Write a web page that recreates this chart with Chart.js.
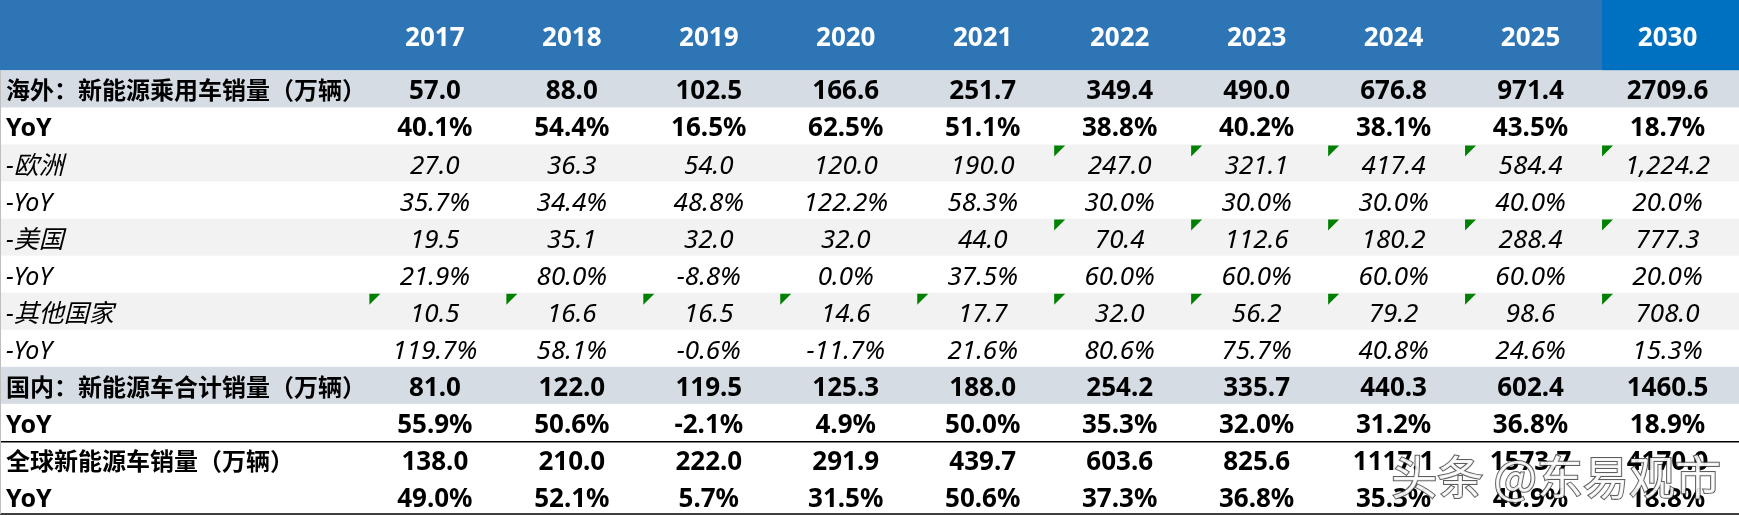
<!DOCTYPE html>
<html>
<head>
<meta charset="utf-8">
<script src="https://cdn.jsdelivr.net/npm/chart.js@4.4.0/dist/chart.umd.min.js"></script>
<style>
  html, body { margin: 0; padding: 0; background: #fff; }
</style>
</head>
<body>
<canvas id="tableChart" width="1739" height="515"></canvas>
<script>
const years = ["2017", "2018", "2019", "2020", "2021", "2022", "2023", "2024", "2025", "2030"]

const overseas    = [57.0, 88.0, 102.5, 166.6, 251.7, 349.4, 490.0, 676.8, 971.4, 2709.6]
const overseasYoY = [40.1, 54.4, 16.5, 62.5, 51.1, 38.8, 40.2, 38.1, 43.5, 18.7]
const europe      = [27.0, 36.3, 54.0, 120.0, 190.0, 247.0, 321.1, 417.4, 584.4, 1224.2]
const europeYoY   = [35.7, 34.4, 48.8, 122.2, 58.3, 30.0, 30.0, 30.0, 40.0, 20.0]
const usa         = [19.5, 35.1, 32.0, 32.0, 44.0, 70.4, 112.6, 180.2, 288.4, 777.3]
const usaYoY      = [21.9, 80.0, -8.8, 0.0, 37.5, 60.0, 60.0, 60.0, 60.0, 20.0]
const others      = [10.5, 16.6, 16.5, 14.6, 17.7, 32.0, 56.2, 79.2, 98.6, 708.0]
const othersYoY   = [119.7, 58.1, -0.6, -11.7, 21.6, 80.6, 75.7, 40.8, 24.6, 15.3]
const domestic    = [81.0, 122.0, 119.5, 125.3, 188.0, 254.2, 335.7, 440.3, 602.4, 1460.5]
const domesticYoY = [55.9, 50.6, -2.1, 4.9, 50.0, 35.3, 32.0, 31.2, 36.8, 18.9]
const globalSales = [138.0, 210.0, 222.0, 291.9, 439.7, 603.6, 825.6, 1117.1, 1573.7, 4170.0]
const globalYoY   = [49.0, 52.1, 5.7, 31.5, 50.6, 37.3, 36.8, 35.3, 40.9, 18.8]

// cells carrying the green Excel marker
const europeFlags = [0, 0, 0, 0, 0, 1, 1, 1, 1, 1]
const usaFlags    = [0, 0, 0, 0, 0, 1, 1, 1, 1, 1]
const othersFlags = [1, 1, 1, 1, 1, 1, 1, 1, 1, 1]

const num = v => v.toFixed(1)
const pct = v => v.toFixed(1) + "%"
const sep = v => v.toLocaleString("en-US", { minimumFractionDigits: 1, maximumFractionDigits: 1 })

// row table: label, values, formatter, style
const rows = [
    { label: "海外：新能源乘用车销量（万辆）", values: overseas, fmt: num, style: "main" },
    { label: "YoY", values: overseasYoY, fmt: pct, style: "bold" },
    { label: "-欧洲", values: europe, fmt: sep, style: "sub", flags: europeFlags },
    { label: "-YoY", values: europeYoY, fmt: pct, style: "subYoY" },
    { label: "-美国", values: usa, fmt: num, style: "sub", flags: usaFlags },
    { label: "-YoY", values: usaYoY, fmt: pct, style: "subYoY" },
    { label: "-其他国家", values: others, fmt: num, style: "sub", flags: othersFlags },
    { label: "-YoY", values: othersYoY, fmt: pct, style: "subYoY" },
    { label: "国内：新能源车合计销量（万辆）", values: domestic, fmt: num, style: "main" },
    { label: "YoY", values: domesticYoY, fmt: pct, style: "bold" },
    { label: "全球新能源车销量（万辆）", values: globalSales, fmt: num, style: "boldTop" },
    { label: "YoY", values: globalYoY, fmt: pct, style: "bold" },
]

const LABEL_COL = 2.697   // label column width, in year-column units
const HEADER_H = 1.9      // header height, in row units
const FONT = "'Noto Sans', 'Noto Sans CJK SC', sans-serif"

const styles = {
    main:    { weight: "bold", band: "#d6dce4", labelSize: 24 },
    bold:    { weight: "bold", band: null, labelSize: 25 },
    boldTop: { weight: "bold", band: null, labelSize: 24 },
    sub:     { weight: "italic", band: "#f2f2f2", labelSize: 25 },
    subYoY:  { weight: "italic", band: null, labelSize: 25 },
}
const cellFont = s => styles[s].weight + " 26px " + FONT
const labelFont = s => styles[s].weight + " " + styles[s].labelSize + "px " + FONT

const rowY = i => HEADER_H + i + 0.5
const colX = i => LABEL_COL + i + 0.5

const datasets = []
datasets.push({
    label: "header",
    data: years.map((y, i) => ({ x: colX(i), y: HEADER_H / 2 })),
    texts: years,
    font: "bold 26px " + FONT,
    color: "#ffffff",
    align: "center",
    pointRadius: 0,
})
datasets.push({
    label: "labels",
    data: rows.map((r, i) => ({ x: 0, y: rowY(i) })),
    texts: rows.map(r => r.label),
    fonts: rows.map(r => labelFont(r.style)),
    color: "#000000",
    align: "left",
    pointRadius: 0,
})
rows.forEach((r, i) => {
    datasets.push({
        label: r.label,
        data: r.values.map((v, j) => ({ x: colX(j), y: rowY(i) })),
        texts: r.values.map(r.fmt),
        font: cellFont(r.style),
        flags: r.flags,
        color: "#000000",
        align: "center",
        pointRadius: 0,
    })
})

const tablePlugin = {
    id: "tableCells",
    beforeDatasetsDraw(chart) {
        const { ctx, scales: { x, y } } = chart
        const left = x.getPixelForValue(0)
        const right = x.getPixelForValue(LABEL_COL + years.length)
        const top0 = y.getPixelForValue(0)
        const headBot = y.getPixelForValue(HEADER_H)
        ctx.save()
        // header
        ctx.fillStyle = "#2e75b6"
        ctx.fillRect(left, top0, right - left, headBot - top0)
        ctx.fillStyle = "#0070c0"
        const lastL = x.getPixelForValue(LABEL_COL + years.length - 1)
        ctx.fillRect(lastL, top0, right - lastL, headBot - top0)
        // row bands
        rows.forEach((r, i) => {
            const band = styles[r.style].band
            if (!band) return
            const top = y.getPixelForValue(HEADER_H + i)
            const bot = y.getPixelForValue(HEADER_H + i + 1)
            ctx.fillStyle = band
            ctx.fillRect(left, top, right - left, bot - top)
        })
        // rules
        ctx.strokeStyle = "#000000"
        ctx.lineWidth = 1.5
        rows.forEach((r, i) => {
            if (r.style !== "boldTop") return
            const yy = Math.round(y.getPixelForValue(HEADER_H + i)) + 0.75
            ctx.beginPath(); ctx.moveTo(left, yy); ctx.lineTo(right, yy); ctx.stroke()
        })
        const yb = y.getPixelForValue(HEADER_H + rows.length) - 1
        ctx.beginPath(); ctx.moveTo(left, yb); ctx.lineTo(right, yb); ctx.stroke()
        ctx.strokeStyle = "#bfbfbf"
        ctx.lineWidth = 1
        ctx.beginPath(); ctx.moveTo(left + 0.5, headBot); ctx.lineTo(left + 0.5, yb); ctx.stroke()
        ctx.restore()
    },
    afterDatasetsDraw(chart) {
        const { ctx, scales: { x, y } } = chart
        const rowPx = y.getPixelForValue(1) - y.getPixelForValue(0)
        const colPx = x.getPixelForValue(1) - x.getPixelForValue(0)
        ctx.save()
        chart.data.datasets.forEach((ds, di) => {
            const meta = chart.getDatasetMeta(di)
            ctx.fillStyle = ds.color
            ctx.textAlign = ds.align
            ctx.textBaseline = "alphabetic"
            meta.data.forEach((pt, i) => {
                ctx.font = ds.fonts ? ds.fonts[i] : ds.font
                const tx = ds.align === "left" ? pt.x + 6 : pt.x - 3
                ctx.fillText(ds.texts[i], tx, pt.y + 10.5)
                if (ds.flags && ds.flags[i]) {
                    const cl = pt.x - colPx / 2
                    const ct = pt.y - rowPx / 2 + 1
                    ctx.fillStyle = "#008000"
                    ctx.beginPath()
                    ctx.moveTo(cl, ct); ctx.lineTo(cl + 11, ct); ctx.lineTo(cl, ct + 11)
                    ctx.closePath(); ctx.fill()
                    ctx.fillStyle = ds.color
                }
            })
        })
        ctx.restore()
    },
    afterDraw(chart) {
        const { ctx, chartArea } = chart
        ctx.save()
        ctx.font = "46px 'Noto Sans CJK SC', sans-serif"
        ctx.textAlign = "right"
        ctx.textBaseline = "middle"
        ctx.lineWidth = 2
        ctx.strokeStyle = "rgba(40, 40, 40, 0.75)"
        ctx.fillStyle = "rgba(255, 255, 255, 0.9)"
        ctx.strokeText("头条 @东易观市", chartArea.right - 18, chartArea.bottom - 38)
        ctx.fillText("头条 @东易观市", chartArea.right - 18, chartArea.bottom - 38)
        ctx.restore()
    }
}

new Chart(document.getElementById("tableChart"), {
    type: "scatter",
    data: { datasets: datasets },
    options: {
        responsive: false,
        animation: false,
        events: [],
        layout: { padding: 0 },
        plugins: { legend: { display: false }, tooltip: { enabled: false } },
        scales: {
            x: { type: "linear", min: 0, max: LABEL_COL + years.length, display: false },
            y: { type: "linear", min: 0, max: HEADER_H + rows.length, reverse: true, display: false },
        },
    },
    plugins: [tablePlugin],
})
</script>
</body>
</html>
